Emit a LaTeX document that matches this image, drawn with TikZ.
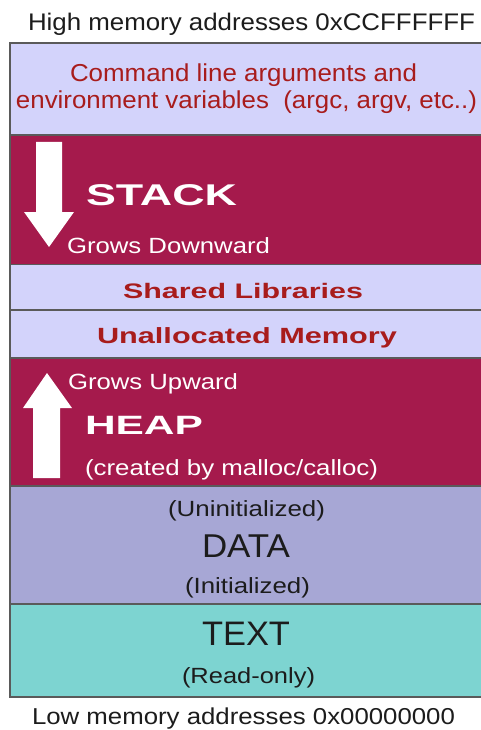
\documentclass[tikz,border=0pt]{standalone}
\usepackage{fontspec}
\setmainfont{Liberation Sans}
\usepackage{graphicx}
\definecolor{lav}{HTML}{D3D3FB}
\definecolor{crim}{HTML}{A51A4C}
\definecolor{datac}{HTML}{A7A7D5}
\definecolor{textc}{HTML}{7DD4D1}
\definecolor{dred}{HTML}{A81C1C}
\definecolor{bord}{HTML}{5A5A5A}
\definecolor{ink}{HTML}{1C1C1C}
\newcommand\fw[3]{\resizebox{#1pt}{\height}{\fontsize{#2}{#2}\selectfont #3}}
\tikzset{
  seg/.style={draw=bord, line width=1.6pt},
  lbl/.style={anchor=base west, inner sep=0pt, outer sep=0pt},
  warrow/.style={fill=white, draw=none}
}
\begin{document}
\begin{tikzpicture}[x=1pt,y=-1pt]
\useasboundingbox (0,0) rectangle (481,730);
\fill[white] (0,0) rectangle (481,730);
\begin{scope}
\clip (0,0) rectangle (481,730);
\draw[seg, fill=lav]   (10,43)    rectangle (495,135);
\draw[seg, fill=crim]  (10,135)   rectangle (495,264.5);
\draw[seg, fill=lav]   (10,264.5) rectangle (495,310);
\draw[seg, fill=lav]   (10,310)   rectangle (495,358);
\draw[seg, fill=crim]  (10,358)   rectangle (495,486);
\draw[seg, fill=datac] (10,486)   rectangle (495,604);
\draw[seg, fill=textc] (10,604)   rectangle (495,697);
\end{scope}
% arrows
\fill[warrow] (36,142) -- (62,142) -- (62,212) -- (74,212) -- (49,247) -- (24,212) -- (36,212) -- cycle;
\fill[warrow] (33,478) -- (60,478) -- (60,408) -- (72,408) -- (47,373) -- (23,408) -- (33,408) -- cycle;
% texts
\node[lbl, text=ink] (hi) at (28,31) {\fw{447}{24}{High memory addresses 0xCCFFFFFF}};
\node[lbl, text=dred] (cl1) at (70,82) {\fw{347}{24.5}{Command line arguments and}};
\node[lbl, text=dred] (cl2) at (16,109) {\fw{461}{24.5}{environment variables\ \ (argc, argv, etc..)}};
\node[lbl, text=white] (stack) at (86,205) {\fw{151}{30}{\bfseries STACK}};
\node[lbl, text=white] (gd) at (67,253) {\fw{203}{22}{Grows Downward}};
\node[lbl, text=dred] (sl) at (123,298) {\fw{240}{21}{\bfseries Shared Libraries}};
\node[lbl, text=dred] (um) at (97,343) {\fw{300}{22}{\bfseries Unallocated Memory}};
\node[lbl, text=white] (gu) at (68,389) {\fw{170}{22}{Grows Upward}};
\node[lbl, text=white] (heap) at (85,434) {\fw{118}{26.5}{\bfseries HEAP}};
\node[lbl, text=white] (mal) at (85,475) {\fw{293}{22}{(created by malloc/calloc)}};
\node[lbl, text=ink] (uni) at (168,516) {\fw{157}{22}{(Uninitialized)}};
\node[lbl, text=ink] (data) at (202,557) {\fw{88}{33}{DATA}};
\node[lbl, text=ink] (ini) at (185,593) {\fw{125}{22}{(Initialized)}};
\node[lbl, text=ink] (text) at (202,645) {\fw{88}{34}{TEXT}};
\node[lbl, text=ink] (ro) at (182,683) {\fw{133}{22}{(Read-only)}};
\node[lbl, text=ink] (lo) at (32,724) {\fw{423}{23}{Low memory addresses 0x00000000}};
\end{tikzpicture}
\end{document}
